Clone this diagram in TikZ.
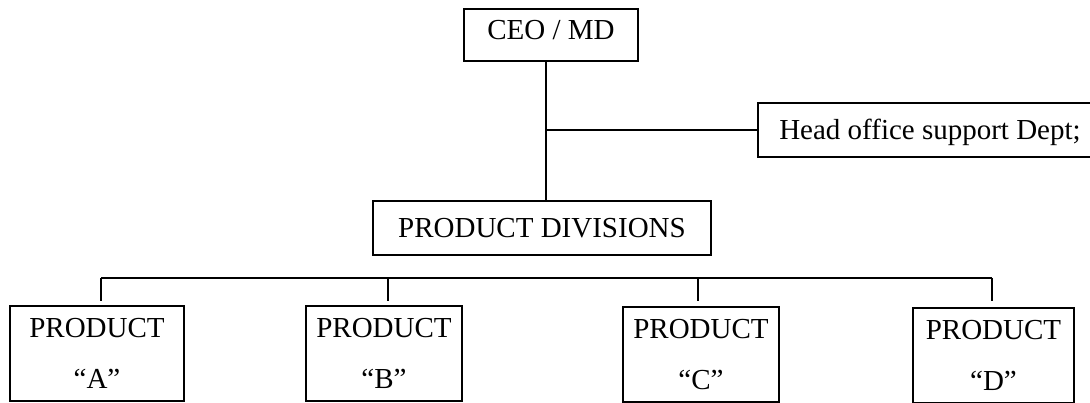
\documentclass[tikz,border=0pt]{standalone}
\usepackage{fontspec}
\setmainfont{Liberation Serif}
\begin{document}
\begin{tikzpicture}[x=1pt,y=-1pt,
  line width=2.3pt,
  box/.style={draw,rectangle,inner sep=0pt,outer sep=0pt,font=\fontsize{29}{51}\selectfont,
    text height=19pt,text depth=0pt},
  prodbox/.style={draw,rectangle,inner sep=0pt,outer sep=0pt,align=center,
    font=\fontsize{29}{51}\selectfont,minimum height=95pt},
  link/.style={draw,line width=2.3pt}]
\useasboundingbox (0,0) rectangle (1090,403);
\node[box,minimum width=174pt,minimum height=52pt,text depth=9pt] (ceo) at (551,35) {CEO / MD};
\node[box,minimum width=344pt,minimum height=54pt] (ho) at (930,130) {Head office support Dept;};
\node[box,minimum width=338pt,minimum height=54pt] (pd) at (542,228) {PRODUCT DIVISIONS};
\node[prodbox,minimum width=174pt] (pa) at (97,353.5) {PRODUCT\\“A”};
\node[prodbox,minimum width=156pt] (pb) at (384,353.5) {PRODUCT\\“B”};
\node[prodbox,minimum width=156pt] (pc) at (701,354.5) {PRODUCT\\“C”};
\node[prodbox,minimum width=161pt] (pdd) at (993.5,355.5) {PRODUCT\\“D”};
\coordinate (trunk) at (546,130);
\coordinate (busL) at (101,278);
\coordinate (busR) at (992,278);
\coordinate (dA) at (101,301);
\coordinate (dB) at (388,301);
\coordinate (dC) at (698,301);
\coordinate (dD) at (992,301);
\draw[link] (trunk |- ceo.south) -- (trunk |- pd.north);
\draw[link] (trunk) -- (ho.west);
\draw[link] (busL) -- (busR);
\draw[link] (dA |- busL) -- (dA);
\draw[link] (dB |- busL) -- (dB);
\draw[link] (dC |- busL) -- (dC);
\draw[link] (dD |- busL) -- (dD);
\end{tikzpicture}
\end{document}
